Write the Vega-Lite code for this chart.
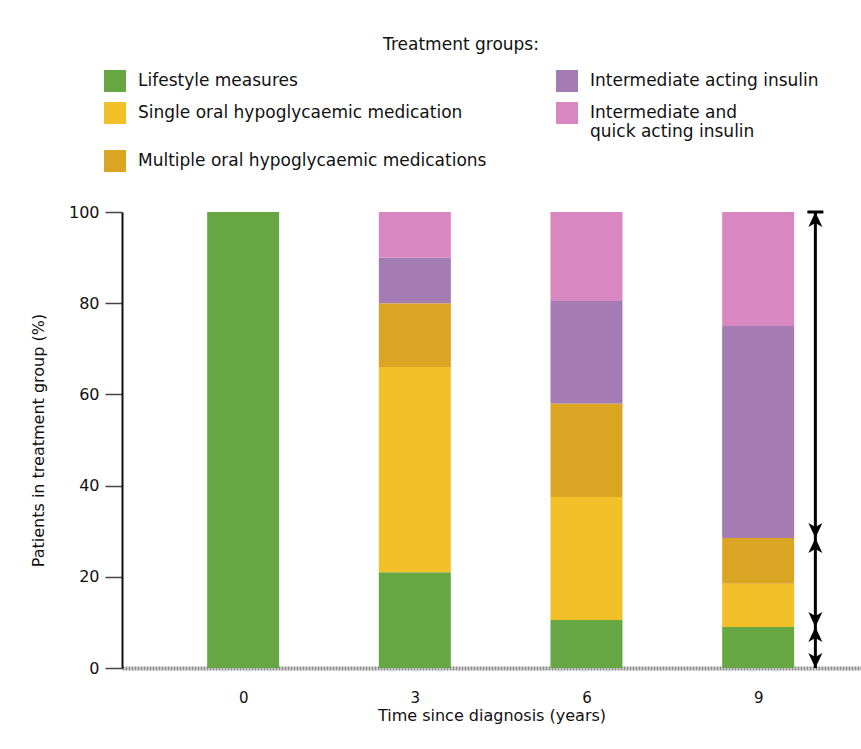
{
  "$schema": "https://vega.github.io/schema/vega-lite/v6.json",
  "width": 739,
  "height": 456,
  "autosize": {"type": "none"},
  "padding": {"left": 122, "top": 212, "right": 0, "bottom": 81},
  "background": "white",
  "config": {
    "view": {"stroke": null},
    "font": "DejaVu Sans",
    "axis": {"labelFont": "DejaVu Sans", "titleFont": "DejaVu Sans", "labelColor": "#111", "titleColor": "#111", "titleFontWeight": "normal"},
    "legend": {"labelFont": "DejaVu Sans", "titleFont": "DejaVu Sans"}
  },
  "layer": [
    {
      "data": {
        "values": [
          {"year": 0, "group": "Lifestyle measures", "pct": 100, "rank": 1},
          {"year": 3, "group": "Lifestyle measures", "pct": 21, "rank": 1},
          {"year": 3, "group": "Single oral hypoglycaemic medication", "pct": 45, "rank": 2},
          {"year": 3, "group": "Multiple oral hypoglycaemic medications", "pct": 14, "rank": 3},
          {"year": 3, "group": "Intermediate acting insulin", "pct": 10, "rank": 4},
          {"year": 3, "group": "Intermediate and quick acting insulin", "pct": 10, "rank": 5},
          {"year": 6, "group": "Lifestyle measures", "pct": 10.5, "rank": 1},
          {"year": 6, "group": "Single oral hypoglycaemic medication", "pct": 27, "rank": 2},
          {"year": 6, "group": "Multiple oral hypoglycaemic medications", "pct": 20.5, "rank": 3},
          {"year": 6, "group": "Intermediate acting insulin", "pct": 22.5, "rank": 4},
          {"year": 6, "group": "Intermediate and quick acting insulin", "pct": 19.5, "rank": 5},
          {"year": 9, "group": "Lifestyle measures", "pct": 9, "rank": 1},
          {"year": 9, "group": "Single oral hypoglycaemic medication", "pct": 9.5, "rank": 2},
          {"year": 9, "group": "Multiple oral hypoglycaemic medications", "pct": 10, "rank": 3},
          {"year": 9, "group": "Intermediate acting insulin", "pct": 46.5, "rank": 4},
          {"year": 9, "group": "Intermediate and quick acting insulin", "pct": 25, "rank": 5}
        ]
      },
      "mark": {"type": "bar", "size": 72, "opacity": 1},
      "encoding": {
        "x": {
          "field": "year",
          "type": "quantitative",
          "scale": {"domain": [-2.03, 10.71], "nice": false, "zero": false},
          "axis": {
            "values": [0, 3, 6, 9],
            "format": "d",
            "ticks": false,
            "grid": false,
            "domainColor": "#8c8c8c",
            "domainWidth": 4,
            "domainDash": [2, 1],
            "labelFontSize": 15,
            "labelPadding": 22,
            "title": "Time since diagnosis (years)",
            "titleFontSize": 16,
            "titlePadding": 2
          }
        },
        "y": {
          "field": "pct",
          "type": "quantitative",
          "stack": "zero",
          "scale": {"domain": [0, 100], "nice": false},
          "axis": {
            "values": [0, 20, 40, 60, 80, 100],
            "grid": false,
            "tickSize": 17,
            "tickColor": "#444",
            "tickWidth": 1.5,
            "domainColor": "#111",
            "domainWidth": 2,
            "labelFontSize": 16,
            "labelPadding": 6,
            "title": "Patients in treatment group (%)",
            "titleFontSize": 16,
            "titlePadding": 22
          }
        },
        "order": {"field": "rank", "type": "quantitative"},
        "color": {
          "field": "group",
          "type": "nominal",
          "scale": {
            "domain": [
              "Lifestyle measures",
              "Single oral hypoglycaemic medication",
              "Multiple oral hypoglycaemic medications",
              "Intermediate acting insulin",
              "Intermediate and quick acting insulin"
            ],
            "range": ["#66a744", "#f2c12a", "#dba524", "#a57bb3", "#d987c0"]
          },
          "legend": {
            "orient": "none",
            "legendX": -18,
            "legendY": -175,
            "direction": "vertical",
            "columns": 2,
            "columnPadding": 69,
            "rowPadding": 10,
            "title": "Treatment groups:",
            "titleFontSize": 17,
            "titleFontWeight": "normal",
            "titleAnchor": "middle",
            "titlePadding": 16,
            "titleColor": "#111",
            "symbolType": "square",
            "symbolSize": 484,
            "symbolStrokeWidth": 0,
            "symbolOpacity": 1,
            "labelFontSize": 17,
            "labelColor": "#111",
            "labelOffset": 12,
            "labelLimit": 500,
            "labelExpr": "datum.label == 'Intermediate and quick acting insulin' ? ['Intermediate and', 'quick acting insulin'] : datum.label"
          }
        }
      }
    },
    {
      "data": {"values": [{"xpos": 10, "lo": 0, "hi": 100}]},
      "mark": {"type": "rule", "color": "black", "strokeWidth": 3},
      "encoding": {
        "x": {"field": "xpos", "type": "quantitative"},
        "y": {"field": "lo", "type": "quantitative"},
        "y2": {"field": "hi"}
      }
    },
    {
      "data": {
        "values": [
          {"xpos": 10, "val": 100, "head": "cap"},
          {"xpos": 10, "val": 100, "head": "up"},
          {"xpos": 10, "val": 28.5, "head": "down"},
          {"xpos": 10, "val": 28.5, "head": "up"},
          {"xpos": 10, "val": 9, "head": "down"},
          {"xpos": 10, "val": 9, "head": "up"},
          {"xpos": 10, "val": 0, "head": "down"}
        ]
      },
      "mark": {"type": "point", "filled": true, "color": "black", "opacity": 1, "size": 400},
      "encoding": {
        "x": {"field": "xpos", "type": "quantitative"},
        "y": {"field": "val", "type": "quantitative"},
        "shape": {
          "field": "head",
          "type": "nominal",
          "scale": {
            "domain": ["up", "down", "cap"],
            "range": [
              "M0,0L0.7,1.5L0,1.1L-0.7,1.5Z",
              "M0,0L0.7,-1.5L0,-1.1L-0.7,-1.5Z",
              "M-0.8,-0.15L0.8,-0.15L0.8,0.15L-0.8,0.15Z"
            ]
          },
          "legend": null
        }
      }
    }
  ]
}
